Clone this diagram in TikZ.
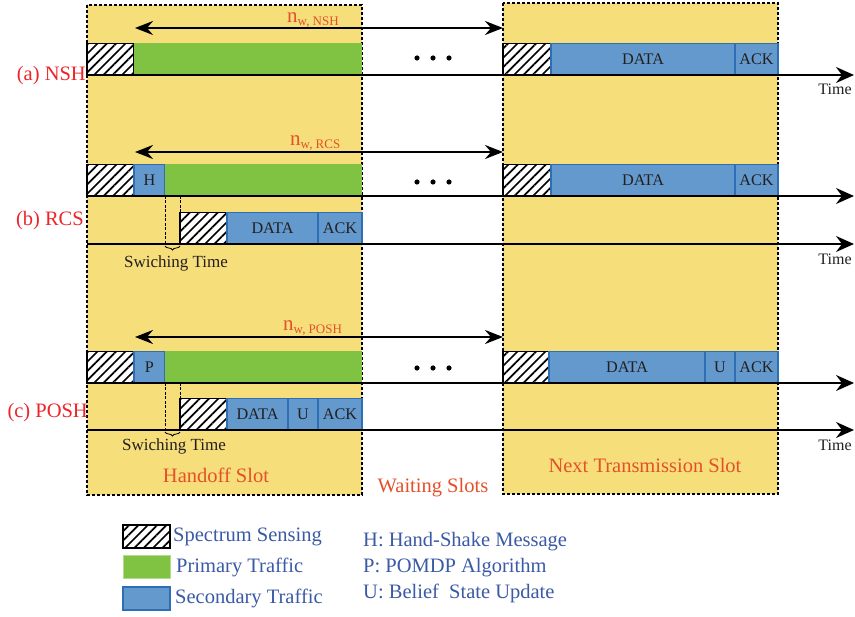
\documentclass[tikz,border=0pt]{standalone}
\usepackage{fontspec}
\setmainfont{Liberation Serif}
\usepackage{tikz}
\usetikzlibrary{arrows.meta, positioning, calc, patterns.meta, decorations.pathreplacing}
\definecolor{SlotYellow}{RGB}{246,223,122}
\definecolor{PrimGreen}{RGB}{128,195,66}
\definecolor{SecBlue}{RGB}{99,153,204}
\definecolor{SecEdge}{RGB}{46,110,180}
\definecolor{LabelRed}{RGB}{237,36,40}
\definecolor{SlotRed}{RGB}{228,80,42}
\definecolor{KeyBlue}{RGB}{58,90,165}
\definecolor{InkDark}{RGB}{35,31,32}

\begin{document}
\begin{tikzpicture}[x=1pt, y=-1pt,
    slot/.style={fill=SlotYellow, draw=black, line width=1.1pt, dash pattern=on 3pt off 2pt},
    box/.style={anchor=south west, inner sep=0pt, outer sep=0pt, minimum height=31.5pt, font=\fontsize{16.2}{17}\selectfont, text=InkDark},
    sense/.style={box, draw=black, line width=1.4pt, preaction={fill=white}, pattern={Lines[angle=45, distance=6.6pt, line width=1.7pt]}},
    primary/.style={box, fill=PrimGreen},
    second/.style={box, fill=SecBlue, draw=SecEdge, line width=1.4pt},
    axis/.style={line width=2.2pt, -{Stealth[length=18pt, width=16pt, inset=6pt]}},
    wait/.style={line width=2.2pt, {Stealth[length=18pt, width=14pt, inset=6pt]}-{Stealth[length=18pt, width=14pt, inset=6pt]}},
    swline/.style={draw=black, line width=0.9pt, dash pattern=on 3pt off 1.5pt},
    rowlab/.style={text=LabelRed, font=\fontsize{20.5}{22}\selectfont, inner sep=0pt},
    nwlab/.style={text=SlotRed, font=\fontsize{21}{22}\selectfont, inner sep=0pt, anchor=base west},
    slotlab/.style={text=SlotRed, font=\fontsize{20.5}{22}\selectfont, inner sep=0pt},
    tlab/.style={text=InkDark, font=\fontsize{16}{17}\selectfont, inner sep=0pt},
    swlab/.style={text=InkDark, font=\fontsize{17}{18}\selectfont, inner sep=0pt},
    keylab/.style={text=KeyBlue, font=\fontsize{20.5}{22}\selectfont, inner sep=0pt}]
    \useasboundingbox (0,0) rectangle (855,617);

    % slots
    \draw[slot] (87,5) rectangle (362,495);
    \draw[slot] (503,3) rectangle (778,494);

    % (a) NSH
    \node[sense, minimum width=47pt] (senA) at (87,75) {};
    \node[primary, minimum width=228pt] (priA) at (134,75) {};
    \node[sense, minimum width=48pt] (senA2) at (503,75) {};
    \node[second, minimum width=184pt] (datA) at (551,75) {DATA};
    \node[second, minimum width=43pt] (ackA) at (735,75) {ACK};
    \coordinate (axA0) at (87,75);
    \coordinate (axA1) at (854,75);
    \draw[axis] (axA0) -- (axA1);
    \coordinate (nwA0) at (135,28);
    \coordinate (nwA1) at (503,28);
    \draw[wait] (nwA0) -- (nwA1);
    \node[nwlab] (nwAlab) at (287,23) {n\raisebox{-2.5pt}{\fontsize{13}{13}\selectfont w, NSH}};
    \node[rowlab, anchor=east] (labA) at (86,76) {(a) NSH};
    \node[tlab] (timeA) at (835,89) {Time};

    % (b) RCS
    \node[sense, minimum width=47pt] (senB) at (87,196) {};
    \node[second, minimum width=31pt] (hB) at (134,196) {H};
    \node[primary, minimum width=197pt] (priB) at (165,196) {};
    \node[sense, minimum width=48pt] (senB2) at (503,196) {};
    \node[second, minimum width=184pt] (datB) at (551,196) {DATA};
    \node[second, minimum width=43pt] (ackB) at (735,196) {ACK};
    \node[sense, minimum width=47pt] (senB3) at (180,244) {};
    \node[second, minimum width=91pt] (datB2) at (227,244) {DATA};
    \node[second, minimum width=44pt] (ackB2) at (318,244) {ACK};
    \coordinate (axB0) at (87,196);
    \coordinate (axB1) at (854,196);
    \coordinate (axB2) at (87,244);
    \coordinate (axB3) at (854,244);
    \draw[axis] (axB0) -- (axB1);
    \draw[axis] (axB2) -- (axB3);
    \draw[swline] (hB.south east) -- (hB.south east |- senB3.south);
    \draw[swline] (senB3.north west |- hB.south) -- (senB3.south west);
    \draw[line width=0.8pt, decorate, decoration={brace, mirror, amplitude=4pt}]
        ($(hB.south east |- senB3.south)+(0,2)$) -- ($(senB3.south west)+(0,2)$);
    \coordinate (nwB0) at (135,152);
    \coordinate (nwB1) at (503,152);
    \draw[wait] (nwB0) -- (nwB1);
    \node[nwlab] (nwBlab) at (290,146) {n\raisebox{-2.5pt}{\fontsize{13}{13}\selectfont w, RCS}};
    \node[rowlab, anchor=east] (labB) at (84,221) {(b) RCS};
    \node[swlab] (swB) at (176,263) {Swiching Time};
    \node[tlab] (timeB) at (835,259) {Time};

    % (c) POSH
    \node[sense, minimum width=47pt] (senC) at (87,383) {};
    \node[second, minimum width=31pt] (pC) at (134,383) {P};
    \node[primary, minimum width=197pt] (priC) at (165,383) {};
    \node[sense, minimum width=46pt] (senC2) at (503,383) {};
    \node[second, minimum width=156pt] (datC) at (549,383) {DATA};
    \node[second, minimum width=30pt] (uC) at (705,383) {U};
    \node[second, minimum width=43pt] (ackC) at (735,383) {ACK};
    \node[sense, minimum width=47pt] (senC3) at (180,430) {};
    \node[second, minimum width=61pt] (datC2) at (227,430) {DATA};
    \node[second, minimum width=30pt] (uC2) at (288,430) {U};
    \node[second, minimum width=44pt] (ackC2) at (318,430) {ACK};
    \coordinate (axC0) at (87,383);
    \coordinate (axC1) at (854,383);
    \coordinate (axC2) at (87,430);
    \coordinate (axC3) at (854,430);
    \draw[axis] (axC0) -- (axC1);
    \draw[axis] (axC2) -- (axC3);
    \draw[swline] (pC.south east) -- (pC.south east |- senC3.south);
    \draw[swline] (senC3.north west |- pC.south) -- (senC3.south west);
    \draw[line width=0.8pt, decorate, decoration={brace, mirror, amplitude=4pt}]
        ($(pC.south east |- senC3.south)+(0,2)$) -- ($(senC3.south west)+(0,2)$);
    \coordinate (nwC0) at (135,337);
    \coordinate (nwC1) at (503,337);
    \draw[wait] (nwC0) -- (nwC1);
    \node[nwlab] (nwClab) at (283,331) {n\raisebox{-2.5pt}{\fontsize{13}{13}\selectfont w, POSH}};
    \node[rowlab, anchor=east] (labC) at (88,413) {(c) POSH};
    \node[swlab] (swC) at (174,446) {Swiching Time};
    \node[tlab] (timeC) at (835,445) {Time};

    % dots between slots
    \foreach \yy in {58,182,368}
        \foreach \xx in {417,433,449}
            \fill (\xx,\yy) circle (2.6pt);

    \node[slotlab] (hoSlot) at (216,475) {Handoff Slot};
    \node[slotlab] (waSlot) at (433,488) {Waiting Slots};
    \node[slotlab] (ntSlot) at (645,465) {Next Transmission Slot};

    % legend
    \node[sense, anchor=center, minimum width=47pt, minimum height=23pt] (keySense) at (146.5,536.5) {};
    \node[primary, anchor=center, minimum width=47pt, minimum height=23pt, draw=PrimGreen!60, line width=1pt] (keyPrim) at (146.5,567.5) {};
    \node[second, anchor=center, minimum width=47pt, minimum height=23pt] (keySec) at (146.5,598.5) {};
    \node[keylab, right=3pt of keySense] (keySenseLab) {Spectrum Sensing};
    \node[keylab, right=6pt of keyPrim] (keyPrimLab) {Primary Traffic};
    \node[keylab, right=5pt of keySec] (keySecLab) {Secondary Traffic};
    \node[keylab, anchor=base west] (keyH) at (363,547) {H: Hand-Shake Message};
    \node[keylab, anchor=base west] (keyP) at (363,573) {P: POMDP Algorithm};
    \node[keylab, anchor=base west] (keyU) at (363,598) {U: Belief\ \ State Update};
\end{tikzpicture}
\end{document}
